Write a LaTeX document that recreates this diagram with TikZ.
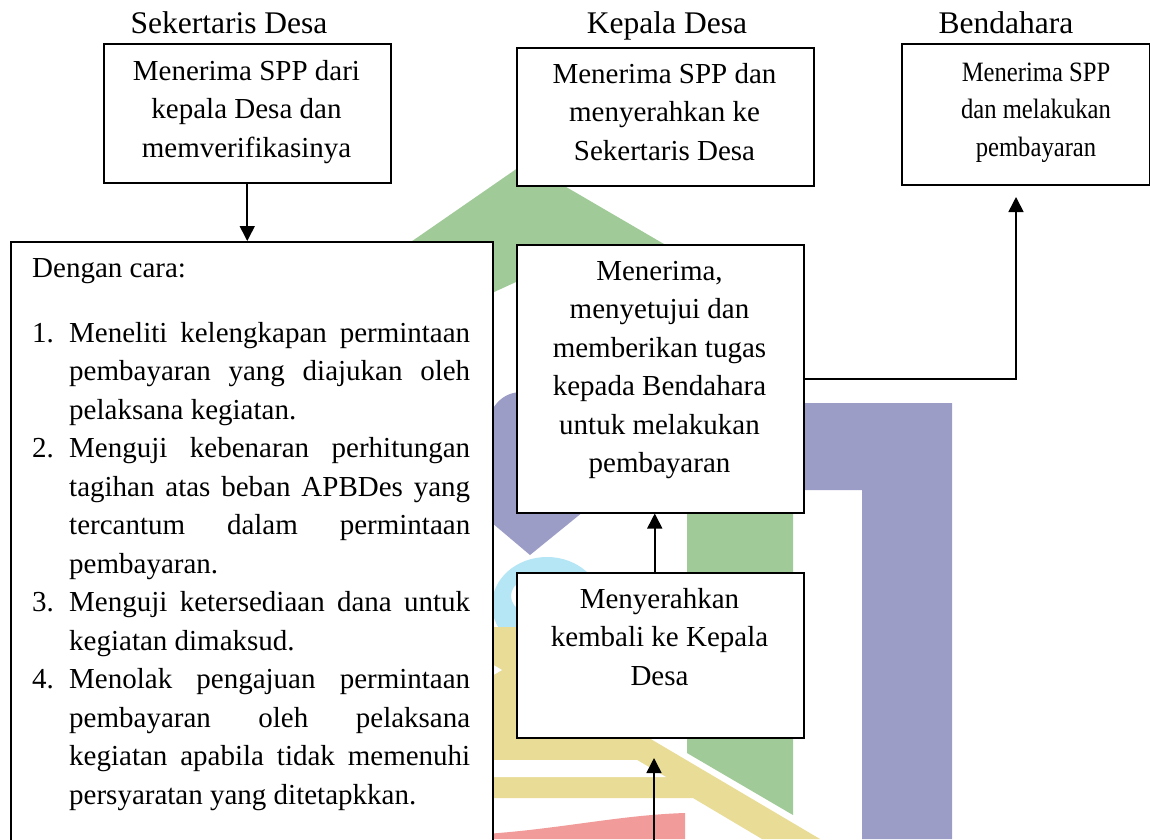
\documentclass[tikz,border=0pt]{standalone}
\usepackage{fontspec}
\setmainfont{Liberation Serif}
\usetikzlibrary{arrows.meta}
\definecolor{wmgreen}{HTML}{A0CA98}
\definecolor{wmpurple}{HTML}{9B9DC6}
\definecolor{wmcyan}{HTML}{B4E6F5}
\definecolor{wmyellow}{HTML}{E8DC96}
\definecolor{wmpink}{HTML}{F29B9B}
\begin{document}
\begin{tikzpicture}[x=1pt,y=-1pt,
  boxst/.style={draw, fill=white, line width=1.5pt, inner sep=0pt, anchor=north west},
  txt/.style={anchor=base, inner sep=0pt, font=\fontsize{29}{38.5}\selectfont},
  headtxt/.style={anchor=base, inner sep=0pt, font=\fontsize{31.5}{38.5}\selectfont},
  narrowtxt/.style={anchor=base, inner sep=0pt, font=\fontsize{28}{37.8}\selectfont, transform shape},
  arr/.style={line width=1.6pt, -{Triangle[length=15pt,width=15pt]}}]
\useasboundingbox (0,0) rectangle (1150,839);
\clip (0,0) rectangle (1150,839);
\fill[white] (0,0) rectangle (1150,839);
% watermark
\fill[wmcyan, even odd rule] (547,605) ellipse [x radius=55pt, y radius=48pt]
  (545,596) ellipse [x radius=34pt, y radius=22pt];
\fill[wmpurple] (485,430) .. controls (490,405) and (503,392) .. (522,392) -- (700,403) -- (952,403)
  -- (952,839) -- (862,839) -- (862,490) -- (610,490) -- (530,555) -- (485,517) -- cycle;
\fill[wmgreen] (405,246) -- (525,163) -- (700,265) -- (793,300) -- (793,815) -- (687,753)
  -- (687,400) -- (516,282) -- (492,293) -- cycle;
\fill[wmyellow] (485,627) -- (627,627) -- (627,725) -- (820,839) -- (762,839) -- (693,798)
  -- (485,798) -- cycle;
\fill[white] (485,760) -- (637,760) -- (666,777) -- (485,777) -- cycle;
\fill[white] (485,660) -- (502,670) -- (485,680) -- cycle;
\fill[wmpink] (485,839) -- (485,834) .. controls (560,829) and (620,815) .. (685,813) -- (685,839) -- cycle;
% boxes
\node[boxst, minimum width=287pt, minimum height=139pt] (A) at (103,43) {};
\node[boxst, minimum width=297pt, minimum height=138pt] (C) at (516,47) {};
\node[boxst, minimum width=248pt, minimum height=141pt] (D) at (901,43) {};
\node[boxst, minimum width=482pt, minimum height=640pt] (B) at (10,241) {};
\node[boxst, minimum width=287pt, minimum height=268pt] (E) at (516,244) {};
\node[boxst, minimum width=287pt, minimum height=165pt] (F) at (516,572) {};
% headers
\node[headtxt] (hA) at (229,33) {Sekertaris Desa};
\node[headtxt] (hC) at (667,33) {Kepala Desa};
\node[headtxt] (hD) at (1006,33) {Bendahara};
% box texts
\node[txt] (tA) at (246.5,80) {\parbox[t]{280pt}{\centering Menerima SPP dari\\kepala Desa dan\\memverifikasinya}};
\node[txt] (tC) at (664.5,83) {\parbox[t]{290pt}{\centering Menerima SPP dan\\menyerahkan ke\\Sekertaris Desa}};
\begin{scope}[shift={(1036,81)}, xscale=0.88]
\node[narrowtxt] (tD) at (0,0) {\parbox[t]{240pt}{\centering Menerima SPP\\dan melakukan\\pembayaran}};
\end{scope}
\node[txt] (tE) at (659.5,280) {\parbox[t]{280pt}{\centering Menerima,\\menyetujui dan\\memberikan tugas\\kepada Bendahara\\untuk melakukan\\pembayaran}};
\node[txt] (tF) at (659.5,608) {\parbox[t]{280pt}{\centering Menyerahkan\\kembali ke Kepala\\Desa}};
\node[txt, anchor=base west] (tB) at (32,277) {\parbox[t]{438pt}{%
Dengan cara:\par\vspace{26.5pt}
\hangindent=37pt\hangafter=1\noindent\makebox[37pt][l]{1.}Meneliti kelengkapan permintaan\linebreak pembayaran yang diajukan oleh\linebreak pelaksana kegiatan.\par
\hangindent=37pt\hangafter=1\noindent\makebox[37pt][l]{2.}Menguji kebenaran perhitungan\linebreak tagihan atas beban APBDes yang\linebreak tercantum dalam permintaan\linebreak pembayaran.\par
\hangindent=37pt\hangafter=1\noindent\makebox[37pt][l]{3.}Menguji ketersediaan dana untuk\linebreak kegiatan dimaksud.\par
\hangindent=37pt\hangafter=1\noindent\makebox[37pt][l]{4.}Menolak pengajuan permintaan\linebreak pembayaran oleh pelaksana\linebreak kegiatan apabila tidak memenuhi\linebreak persyaratan yang ditetapkkan.\par}};
% connectors
\draw[arr] (A.south) -- (A.south |- B.north);
\coordinate (dtip) at (1016,197);
\draw[arr] (E.east) -| (dtip);
\draw[arr] ([xshift=-5.5pt]F.north) -- ([xshift=-5.5pt]E.south);
\coordinate (fbot) at (654,850);
\coordinate (ftip) at (654,758);
\draw[arr] (fbot) -- (ftip);
\end{tikzpicture}
\end{document}
